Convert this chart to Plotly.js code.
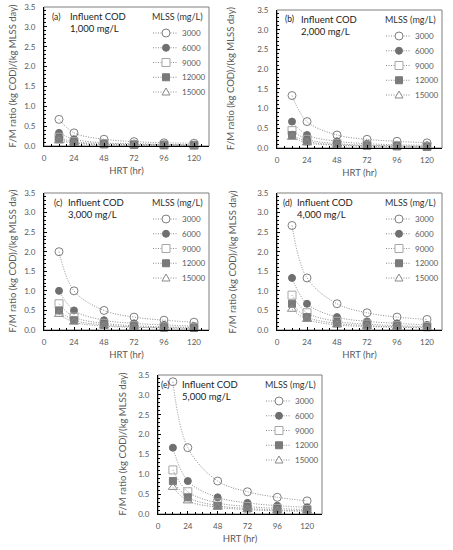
<!DOCTYPE html>
<html>
<head>
<meta charset="utf-8">
<script src="https://cdn.plot.ly/plotly-3.0.1.min.js"></script>
<style>html,body{margin:0;padding:0;background:#fff;}#chart{width:453px;height:550px;}</style>
</head>
<body>
<div id="chart"></div>
<script>
// ---- data ----
const hrt = [12, 24, 48, 72, 96, 120];
const mlssLabels = ['3000', '6000', '9000', '12000', '15000'];
const panelTags = ['(a)', '(b)', '(c)', '(d)', '(e)'];
const codLabels = ['1,000 mg/L', '2,000 mg/L', '3,000 mg/L', '4,000 mg/L', '5,000 mg/L'];
const xTicks = [0, 24, 48, 72, 96, 120];

const fmA = [
  [0.67, 0.33, 0.17, 0.11, 0.08, 0.07],
  [0.33, 0.17, 0.08, 0.06, 0.04, 0.03],
  [0.22, 0.11, 0.06, 0.04, 0.03, 0.02],
  [0.17, 0.08, 0.04, 0.03, 0.02, 0.02],
  [0.13, 0.07, 0.03, 0.02, 0.02, 0.01]
];
const fmB = [
  [1.33, 0.67, 0.33, 0.22, 0.17, 0.13],
  [0.67, 0.33, 0.17, 0.11, 0.08, 0.07],
  [0.44, 0.22, 0.11, 0.07, 0.06, 0.04],
  [0.33, 0.17, 0.08, 0.06, 0.04, 0.03],
  [0.27, 0.13, 0.07, 0.04, 0.03, 0.03]
];
const fmC = [
  [2.00, 1.00, 0.50, 0.33, 0.25, 0.20],
  [1.00, 0.50, 0.25, 0.17, 0.13, 0.10],
  [0.67, 0.33, 0.17, 0.11, 0.08, 0.07],
  [0.50, 0.25, 0.13, 0.08, 0.06, 0.05],
  [0.40, 0.20, 0.10, 0.07, 0.05, 0.04]
];
const fmD = [
  [2.67, 1.33, 0.67, 0.44, 0.33, 0.27],
  [1.33, 0.67, 0.33, 0.22, 0.17, 0.13],
  [0.89, 0.44, 0.22, 0.15, 0.11, 0.09],
  [0.67, 0.33, 0.17, 0.11, 0.08, 0.07],
  [0.53, 0.27, 0.13, 0.09, 0.07, 0.05]
];
const fmE = [
  [3.33, 1.67, 0.83, 0.56, 0.42, 0.33],
  [1.67, 0.83, 0.42, 0.28, 0.21, 0.17],
  [1.11, 0.56, 0.28, 0.19, 0.14, 0.11],
  [0.83, 0.42, 0.21, 0.14, 0.10, 0.08],
  [0.67, 0.33, 0.17, 0.11, 0.08, 0.07]
];
const panels = [fmA, fmB, fmC, fmD, fmE];

// ---- styling / layout ----
const W = 453, H = 550;
const FONT = 'Lato, "Open Sans", sans-serif';
// plot boxes in pixels: [left, right, top, bottom]
const boxes = [
  [44, 209, 7, 146],
  [277, 442, 10, 148],
  [44, 209, 193, 330],
  [277, 442, 193, 330],
  [158, 322, 375, 514]
];
const ytitleX = [12, 230, 12, 232, 122];
const tagOffset = [6, 6, 8, 4, 1];
const textOffset = [24, 22, 22, 18, 22];

const seriesStyle = [
  {symbol: 'circle-open', size: 8, color: '#7f7f7f'},
  {symbol: 'circle', size: 7, color: '#6f6f6f'},
  {symbol: 'square-open', size: 8, color: '#a6a6a6'},
  {symbol: 'square', size: 7, color: '#7a7a7a'},
  {symbol: 'triangle-up-open', size: 8, color: '#8a8a8a'}
];
const lineColor = '#8c8c8c';
const DOT = '1px,1.5px';

const px = x => x / W;
const py = y => 1 - y / H;

const traces = [];
const layout = {
  width: W, height: H,
  margin: {l: 0, r: 0, t: 0, b: 0},
  paper_bgcolor: '#ffffff', plot_bgcolor: '#ffffff',
  showlegend: false,
  font: {family: FONT, color: '#595959', size: 8},
  annotations: [], shapes: []
};

panels.forEach((fm, p) => {
  const sfx = p === 0 ? '' : String(p + 1);
  const [L, R, T, B] = boxes[p];
  fm.forEach((vals, s) => {
    const st = seriesStyle[s];
    traces.push({
      type: 'scatter', mode: 'lines+markers',
      x: hrt, y: vals, name: mlssLabels[s],
      xaxis: 'x' + sfx, yaxis: 'y' + sfx,
      line: {color: lineColor, width: 1, dash: DOT, shape: 'spline', smoothing: 1},
      marker: {symbol: st.symbol, size: st.size, color: st.color,
               line: {color: st.color, width: 1}},
      cliponaxis: false
    });
  });
  layout['xaxis' + sfx] = {
    domain: [px(L), px(R)], anchor: 'y' + sfx, range: [0, 132],
    tickvals: xTicks, ticktext: xTicks.map(String),
    ticks: 'inside', ticklen: 3, tickcolor: '#000', tickwidth: 1,
    minor: {dtick: 6, tick0: 0, ticks: 'inside', ticklen: 2, tickcolor: '#000'},
    showgrid: false, zeroline: false, showline: true, linecolor: '#000', linewidth: 1,
    tickfont: {family: FONT, size: 8, color: '#595959'},
    ticklabelstandoff: 4,
    title: {text: 'HRT (hr)', font: {family: FONT, size: 9.5, color: '#595959'}, standoff: 5},
    fixedrange: true
  };
  layout['yaxis' + sfx] = {
    domain: [py(B), py(T)], anchor: 'x' + sfx, range: [0, 3.5],
    dtick: 0.5, tick0: 0, tickformat: '.1f',
    ticks: 'inside', ticklen: 3, tickcolor: '#000', tickwidth: 1,
    minor: {dtick: 0.1, tick0: 0, ticks: 'inside', ticklen: 2, tickcolor: '#000'},
    showgrid: false, zeroline: false, showline: true, linecolor: '#000', linewidth: 1,
    tickfont: {family: FONT, size: 8, color: '#595959'},
    ticklabelstandoff: 6,
    fixedrange: true
  };
  // y axis title (rotated text)
  layout.annotations.push({
    xref: 'paper', yref: 'paper', x: px(ytitleX[p]), y: py((T + B) / 2),
    text: 'F/M ratio (kg COD)/(kg MLSS day)', textangle: -90, showarrow: false,
    xanchor: 'center', yanchor: 'middle',
    font: {family: FONT, size: 9.5, color: '#595959'}
  });
  // frame (top/right border in gray)
  layout.shapes.push({
    type: 'rect', xref: 'paper', yref: 'paper',
    x0: px(L), x1: px(R), y0: py(B), y1: py(T),
    line: {color: '#7f7f7f', width: 1}, layer: 'below'
  });
  // panel label + influent COD text
  layout.annotations.push({
    xref: 'paper', yref: 'paper', x: px(L + tagOffset[p]), y: py(T + 9.5),
    text: panelTags[p], showarrow: false, xanchor: 'left', yanchor: 'middle',
    font: {family: FONT, size: 8.5, color: '#222'}
  });
  layout.annotations.push({
    xref: 'paper', yref: 'paper', x: px(L + textOffset[p]), y: py(T + 9.5),
    text: 'Influent COD', showarrow: false, xanchor: 'left', yanchor: 'middle',
    font: {family: FONT, size: 9.5, color: '#222'}
  });
  layout.annotations.push({
    xref: 'paper', yref: 'paper', x: px(L + textOffset[p]), y: py(T + 21.5),
    text: codLabels[p], showarrow: false, xanchor: 'left', yanchor: 'middle',
    font: {family: FONT, size: 9.5, color: '#222'}
  });
  // legend title
  layout.annotations.push({
    xref: 'paper', yref: 'paper', x: px(R - 4), y: py(T + 9.5),
    text: 'MLSS (mg/L)', showarrow: false, xanchor: 'right', yanchor: 'middle',
    font: {family: FONT, size: 9, color: '#333'}
  });
  // legend entries
  mlssLabels.forEach((lab, s) => {
    const st = seriesStyle[s];
    const yy = T + 26 + s * 14.75;
    const cx = R - 43;
    layout.shapes.push({
      type: 'line', xref: 'paper', yref: 'paper',
      x0: px(R - 56), x1: px(R - 31), y0: py(yy), y1: py(yy),
      line: {color: lineColor, width: 1, dash: DOT}
    });
    const open = st.symbol.indexOf('open') >= 0;
    const fill = open ? '#ffffff' : st.color;
    const hs = st.size / 2;
    const common = {
      xref: 'paper', yref: 'paper', xsizemode: 'pixel', ysizemode: 'pixel',
      xanchor: px(cx), yanchor: py(yy),
      fillcolor: fill, line: {color: st.color, width: 1}
    };
    if (st.symbol.indexOf('circle') === 0) {
      layout.shapes.push(Object.assign({type: 'circle', x0: -hs, x1: hs, y0: -hs, y1: hs}, common));
    } else if (st.symbol.indexOf('square') === 0) {
      layout.shapes.push(Object.assign({type: 'rect', x0: -hs, x1: hs, y0: -hs, y1: hs}, common));
    } else {
      layout.shapes.push(Object.assign({type: 'path', path: 'M -4,-3 L 4,-3 L 0,4 Z'}, common));
    }
    layout.annotations.push({
      xref: 'paper', yref: 'paper', x: px(R - 29), y: py(yy),
      text: lab, showarrow: false, xanchor: 'left', yanchor: 'middle',
      font: {family: FONT, size: 8, color: '#595959'}
    });
  });
});

Plotly.newPlot('chart', traces, layout, {displayModeBar: false, staticPlot: true});
</script>
</body>
</html>
